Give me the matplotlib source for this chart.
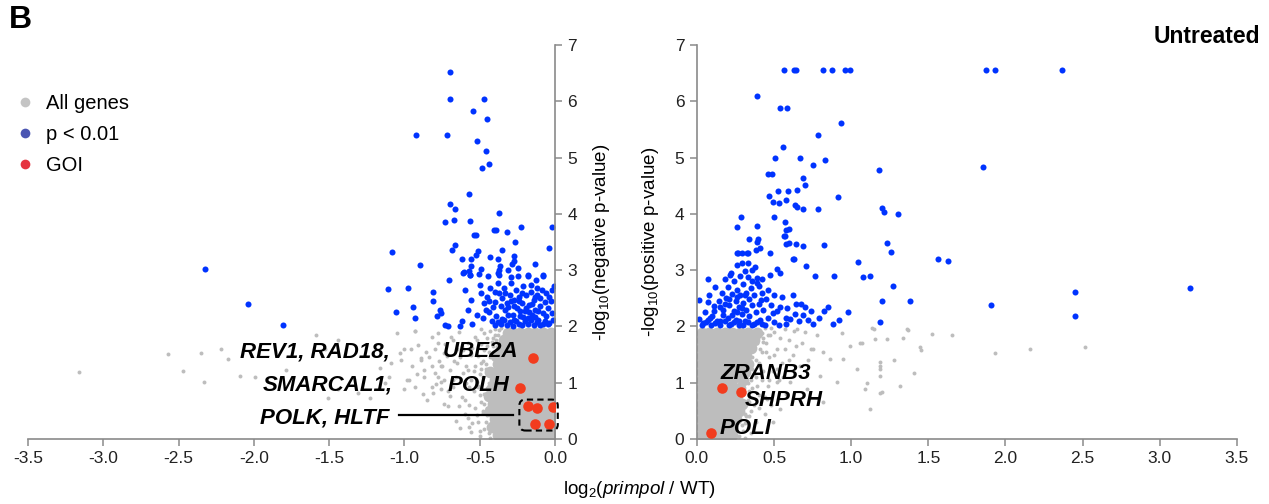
import matplotlib
matplotlib.use("Agg")
import matplotlib.pyplot as plt
from matplotlib.lines import Line2D
from matplotlib.patches import FancyBboxPatch

plt.rcParams['font.family'] = ['Liberation Sans', 'DejaVu Sans']
plt.rcParams['mathtext.fontset'] = 'custom'
plt.rcParams['mathtext.rm'] = 'Liberation Sans'
plt.rcParams['mathtext.it'] = 'Liberation Sans:italic'

GRAY = '#bdbdbd'
BLUE = '#0033ff'
RED = '#f23c1e'
SPINE = '#8a8a8a'

# ---------------- left panel (negative) ----------------
# dense part of the gene cloud
core_left_x = [
    -0.03, -0.08, -0.13, -0.18, -0.23, -0.28, -0.33, -0.38,
    -0.03, -0.08, -0.13, -0.18, -0.23, -0.28, -0.33, -0.38, -0.42,
    -0.03, -0.08, -0.13, -0.18, -0.23, -0.28, -0.33, -0.38, -0.40,
    -0.03, -0.08, -0.13, -0.18, -0.23, -0.28, -0.33, -0.38, -0.43,
    -0.03, -0.08, -0.13, -0.18, -0.23, -0.28, -0.33, -0.38, -0.41,
    -0.03, -0.08, -0.13, -0.18, -0.23, -0.28, -0.33, -0.38, -0.44,
    -0.03, -0.08, -0.13, -0.18, -0.23, -0.28, -0.33, -0.38, -0.42,
    -0.03, -0.08, -0.13, -0.18, -0.23, -0.28, -0.33, -0.38, -0.40,
    -0.03, -0.08, -0.13, -0.18, -0.23, -0.28, -0.33, -0.38, -0.43,
    -0.03, -0.08, -0.13, -0.18, -0.23, -0.28, -0.33, -0.38,
    -0.03, -0.08, -0.13, -0.18, -0.23, -0.28, -0.33, -0.39,
    -0.03, -0.08, -0.13, -0.18, -0.23, -0.28, -0.33, -0.36,
    -0.03, -0.08, -0.13, -0.18, -0.23, -0.28, -0.34,
    -0.03, -0.08, -0.13, -0.18, -0.23, -0.28, -0.31,
]
core_left_y = (
    [0.07] * 8 + [0.21] * 9 + [0.35] * 9 + [0.49] * 9 + [0.63] * 9 + [0.77] * 9
    + [0.91] * 9 + [1.05] * 9 + [1.19] * 9 + [1.33] * 8 + [1.47] * 8 + [1.61] * 8
    + [1.75] * 7 + [1.89] * 7
)

# scattered genes around the cloud
gray_left_x = [
    -0.44, -0.46, -0.45, -0.47, -0.44, -0.46, -0.43, -0.41, -0.38, -0.40, -0.36,
    -0.50, -0.52, -0.49, -0.51, -0.50, -0.48, -0.47, -0.45, -0.43, -0.55, -0.57,
    -0.54, -0.56, -0.53, -0.55, -0.52, -0.49, -0.60, -0.62, -0.59, -0.61, -0.63,
    -0.58, -0.66, -0.68, -0.65, -0.70, -0.72, -0.74, -0.64, -0.68, -0.76, -0.78,
    -0.82, -0.86, -0.88, -0.92, -0.96, -1.02, -0.41, -0.42, -0.40, -0.41, -0.39,
    -0.89, -0.87, -0.93, -0.98, -0.82, -0.80, -0.78, -0.81, -0.76, -0.74, -0.69,
    -0.68, -0.65, -0.62, -0.60, -0.58, -0.57, -0.56, -0.53, -0.51, -0.49, -0.48, -0.47,
    -1.16, -1.13, -1.10, -1.09, -1.05, -1.03, -1.00, -0.97, -0.95, -0.93, -0.91,
    -0.89, -0.87, -0.85, -0.82, -0.80, -0.78, -0.77, -0.76, -0.74, -0.71, -0.70,
    -1.51, -1.44, -1.31, -1.23, -1.59, -1.53, -1.44, -1.79, -1.99, -2.09, -2.17,
    -2.22, -2.33, -2.35, -2.47, -2.57, -3.16, -1.00, -0.93,
    -0.44, -0.45, -0.47, -0.45, -0.48, -0.46, -0.44, -0.42, -0.40, -0.37,
    -0.50, -0.51, -0.53, -0.50, -0.52, -0.54, -0.51, -0.49, -0.47, -0.56,
    -0.58, -0.57, -0.59, -0.56, -0.61, -0.63, -0.64, -0.66, -0.67, -0.71,
    -0.73, -0.75, -0.79, -0.84, -0.48, -0.46, -0.49, -0.45, -0.43, -0.41,
]
gray_left_y = [
    0.10, 0.30, 0.55, 0.80, 1.00, 1.25, 1.45, 1.65, 1.85, 1.95, 1.98,
    0.15, 0.42, 0.66, 0.95, 1.15, 1.38, 1.58, 1.80, 1.92, 0.28, 0.60,
    0.85, 1.05, 1.30, 1.62, 1.75, 1.95, 0.45, 0.75, 1.00, 1.18, 1.45,
    1.70, 0.32, 0.92, 1.60, 1.22, 1.48, 0.62, 1.90, 1.75, 1.02, 1.70,
    1.30, 1.55, 0.80, 1.15, 1.60, 1.40, 0.70, 1.15, 0.40, 1.55, 1.75,
    1.44, 1.23, 0.93, 1.05, 1.82, 1.59, 1.11, 0.82, 1.29, 1.53, 1.82,
    1.05, 1.35, 1.64, 0.70, 1.23, 0.22, 1.53, 1.82, 0.93, 1.35, 0.46, 0.17,
    1.26, 0.99, 1.11, 1.35, 1.88, 1.53, 0.88, 1.05, 1.29, 1.91, 1.67,
    1.41, 1.11, 0.70, 0.93, 1.17, 1.88, 1.38, 0.88, 1.05, 0.58, 0.76,
    0.73, 0.88, 0.82, 0.73, 1.85, 1.59, 1.76, 1.22, 1.10, 1.12, 1.42,
    1.59, 1.02, 1.53, 1.20, 1.51, 1.19, 1.59, 1.91,
    0.20, 0.42, 0.62, 0.90, 1.10, 1.33, 1.55, 1.72, 1.85, 1.93,
    0.05, 0.30, 0.55, 0.78, 1.02, 1.20, 1.48, 1.68, 1.88, 0.12,
    0.38, 0.92, 1.30, 1.50, 1.58, 0.20, 0.58, 1.10, 1.38, 0.85,
    1.68, 1.30, 0.98, 1.45, 0.50, 0.72, 1.25, 1.65, 0.02, 1.80,
]

blue_left_x = [
    -0.697, -0.697, -0.474, -0.547, -0.450, -0.925, -0.720, -0.516, -0.458, -0.483,
    -0.440, -0.573, -0.697, -0.662, -0.374, -0.728, -0.670, -0.564, -0.536, -0.523,
    -0.403, -0.392, -0.317, -0.226, -0.020, -0.268, -0.662, -0.038,
    -2.324, -2.040, -1.804, -1.080, -0.900, -1.107, -0.974, -1.056, -0.941, -0.928,
    -0.812, -0.786, -0.766, -0.757, -0.730, -0.712,
    -0.682, -0.616, -0.560, -0.513, -0.525, -0.606, -0.569, -0.558, -0.567, -0.490,
    -0.430, -0.380, -0.367, -0.370, -0.370, -0.352, -0.270, -0.274, -0.286, -0.314,
    -0.248, -0.180, -0.135, -0.128, -0.080, -0.005, -0.020, -0.015, -0.048, -0.040,
    -0.810, -0.706, -0.613, -0.562, -0.503, -0.447, -0.376, -0.292, -0.244, -0.181,
    -0.082, -0.629,
    -0.60, -0.56, -0.50, -0.49, -0.47, -0.45, -0.43, -0.40, -0.38, -0.37, -0.36,
    -0.35, -0.34, -0.33, -0.32, -0.30, -0.29, -0.28, -0.27, -0.26, -0.25, -0.24,
    -0.23, -0.22, -0.21, -0.20, -0.19, -0.18, -0.17, -0.16, -0.15, -0.14, -0.13,
    -0.12, -0.11, -0.10, -0.09, -0.08, -0.07, -0.06, -0.05, -0.04,
    -0.40, -0.38, -0.36, -0.34, -0.32, -0.30, -0.28, -0.26, -0.24, -0.22, -0.20,
    -0.18, -0.16, -0.14, -0.12, -0.10, -0.08,
    -0.52, -0.58, -0.62, -0.55, -0.48, -0.44, -0.42, -0.39, -0.35, -0.31, -0.27,
    -0.23, -0.21, -0.17, -0.13, -0.11, -0.07, -0.33, -0.31, -0.27, -0.24, -0.19,
    -0.15, -0.13, -0.10, -0.40, -0.44, -0.46, -0.41, -0.29, -0.22, -0.16, -0.12,
    -0.06, -0.03, -0.02,
]
blue_left_y = [
    6.52, 6.04, 6.04, 5.82, 5.68, 5.40, 5.40, 5.30, 5.12, 4.81,
    4.88, 4.35, 4.18, 4.09, 4.02, 3.85, 3.89, 3.87, 3.63, 3.63,
    3.72, 3.72, 3.67, 3.76, 3.76, 3.50, 3.44, 3.39,
    3.02, 2.40, 2.03, 3.32, 3.09, 2.66, 2.69, 2.26, 2.34, 2.15,
    2.46, 2.19, 2.30, 2.24, 2.03, 2.01,
    3.36, 3.20, 3.20, 3.34, 3.27, 2.96, 2.99, 3.07, 2.92, 3.02,
    3.24, 3.20, 3.07, 3.01, 2.92, 3.35, 3.26, 3.17, 3.11, 3.01,
    3.04, 2.89, 3.11, 2.83, 2.91, 2.72, 2.24, 2.12, 2.04, 2.06,
    2.61, 2.82, 2.95, 2.92, 2.94, 2.89, 2.95, 2.88, 2.89, 2.92,
    2.90, 2.01,
    2.65, 2.47, 2.74, 2.59, 2.41, 2.53, 2.68, 2.44, 2.77, 2.59, 2.36,
    2.50, 2.68, 2.30, 2.41, 2.56, 2.77, 2.21, 2.47, 2.65, 2.33, 2.53,
    2.18, 2.41, 2.71, 2.27, 2.56, 2.15, 2.38, 2.62, 2.21, 2.47, 2.30,
    2.56, 2.12, 2.36, 2.65, 2.24, 2.44, 2.18, 2.33, 2.53,
    2.02, 2.08, 2.04, 2.11, 2.03, 2.07, 2.01, 2.10, 2.05, 2.02, 2.09,
    2.04, 2.12, 2.03, 2.07, 2.02, 2.05,
    2.20, 2.30, 2.10, 2.05, 2.15, 2.25, 2.10, 2.18, 2.14, 2.20, 2.12,
    2.28, 2.16, 2.25, 2.17, 2.27, 2.10, 2.60, 2.35, 2.37, 2.45, 2.32,
    2.40, 2.52, 2.50, 2.62, 2.46, 2.30, 2.34, 2.46, 2.60, 2.73, 2.68,
    2.60, 2.45, 2.65,
]

goi_left_x = [-0.148, -0.234, -0.177, -0.120, -0.015, -0.133, -0.042]
goi_left_y = [1.44, 0.91, 0.58, 0.55, 0.57, 0.27, 0.27]

# ---------------- right panel (positive) ----------------
core_right_x = [
    0.03, 0.08, 0.13, 0.18, 0.23,
    0.03, 0.08, 0.13, 0.18, 0.23,
    0.03, 0.08, 0.13, 0.18, 0.23, 0.25,
    0.03, 0.08, 0.13, 0.18, 0.23, 0.27,
    0.03, 0.08, 0.13, 0.18, 0.23, 0.29,
    0.03, 0.08, 0.13, 0.18, 0.23, 0.26,
    0.03, 0.08, 0.13, 0.18, 0.23, 0.28,
    0.03, 0.08, 0.13, 0.18, 0.23, 0.30,
    0.03, 0.08, 0.13, 0.18, 0.23, 0.28, 0.31,
    0.03, 0.08, 0.13, 0.18, 0.23, 0.28, 0.33,
    0.03, 0.08, 0.13, 0.18, 0.23, 0.28, 0.32,
    0.03, 0.08, 0.13, 0.18, 0.23, 0.28, 0.33, 0.35,
    0.03, 0.08, 0.13, 0.18, 0.23, 0.28, 0.33, 0.37,
    0.03, 0.08, 0.13, 0.18, 0.23, 0.28, 0.33, 0.39,
]
core_right_y = (
    [0.07] * 5 + [0.21] * 5 + [0.35] * 6 + [0.49] * 6 + [0.63] * 6 + [0.77] * 6
    + [0.91] * 6 + [1.05] * 6 + [1.19] * 7 + [1.33] * 7 + [1.47] * 7
    + [1.61] * 8 + [1.75] * 8 + [1.89] * 8
)

gray_right_x = [
    0.30, 0.32, 0.34, 0.36, 0.38, 0.40, 0.42, 0.43, 0.44, 0.40, 0.45, 0.47,
    0.49, 0.46, 0.44, 0.40, 0.38, 0.35, 0.50, 0.52, 0.55, 0.53, 0.58, 0.60,
    0.62, 0.65, 0.68, 0.72, 0.78, 0.82, 0.30, 0.33, 0.36, 0.31, 0.27, 0.42, 0.48,
    0.474, 0.571, 0.626, 0.669, 0.604, 0.712, 0.755, 0.799, 0.820, 0.864, 0.907,
    0.940, 0.950, 0.993, 1.037, 1.058, 1.090, 1.134, 1.156, 1.188, 1.188, 1.188,
    1.200, 1.123, 0.496, 0.540, 0.452, 0.517,
    1.069, 1.102, 1.145, 1.188, 1.188, 1.232, 1.275, 1.318, 1.361, 1.405, 1.448,
    1.370, 1.526, 1.656, 1.336, 1.454, 1.935, 2.156, 2.513,
    0.31, 0.29, 0.31, 0.33, 0.34, 0.35, 0.36, 0.38, 0.41, 0.43, 0.42, 0.46,
    0.48, 0.45, 0.39, 0.37, 0.34, 0.33, 0.40, 0.43, 0.50, 0.54, 0.57, 0.52,
    0.47, 0.44, 0.56, 0.60, 0.64, 0.70, 0.74, 0.39, 0.41, 0.37, 0.35,
]
gray_right_y = [
    0.15, 0.40, 0.65, 0.90, 1.10, 1.35, 1.55, 1.80, 1.97, 1.90, 1.70, 1.45,
    1.20, 0.95, 0.75, 0.55, 0.30, 0.10, 1.90, 1.60, 1.35, 1.05, 0.80, 1.75,
    1.50, 1.95, 1.70, 1.40, 1.85, 1.55, 0.55, 1.00, 1.45, 0.28, 0.05, 1.05, 0.60,
    1.84, 1.60, 1.92, 1.30, 1.01, 0.89, 1.60, 1.12, 0.65, 1.42, 1.01,
    1.89, 1.42, 1.66, 1.24, 1.71, 0.89, 1.98, 1.77, 1.36, 1.24, 1.12,
    0.83, 0.53, 0.30, 0.53, 0.71, 1.01,
    1.71, 0.99, 1.95, 1.29, 0.82, 1.77, 1.41, 0.94, 1.95, 1.17, 1.64,
    1.93, 1.86, 1.84, 1.80, 1.58, 1.53, 1.60, 1.64,
    0.02, 0.25, 0.45, 0.70, 0.85, 1.05, 1.25, 1.40, 1.60, 1.72, 1.88, 1.85,
    1.98, 1.55, 0.95, 0.60, 0.40, 0.20, 0.78, 1.20, 1.50, 1.80, 1.95, 1.25,
    1.05, 0.45, 1.10, 1.40, 1.65, 1.90, 1.60, 1.70, 1.32, 1.15, 0.50,
]

blue_right_x = [
    0.567, 0.632, 0.643, 0.816, 0.875, 0.961, 0.989, 1.873, 1.930, 2.364,
    0.390, 0.541, 0.582, 0.931, 0.786, 0.558, 0.504, 0.665, 0.833, 0.753,
    1.180, 1.856, 0.459, 0.487, 0.688, 0.703, 0.470, 0.526, 0.591, 0.647,
    0.916, 0.495, 0.534, 0.576, 0.638, 0.649, 0.688, 0.786, 1.197, 1.214,
    1.303, 0.284, 0.502, 0.388, 0.573, 0.600, 0.258,
    0.336, 0.398, 0.392, 0.569, 0.600, 0.576, 0.643, 0.688, 0.825, 0.626,
    0.704, 0.767, 0.890, 1.041, 1.076, 1.123, 1.229, 1.260, 1.271, 1.197,
    1.383, 1.188, 0.979, 0.922, 0.825, 0.794, 1.563, 1.628, 1.904, 2.450,
    2.450, 3.194,
    0.407, 0.383, 0.258, 0.294, 0.333, 0.476, 0.567, 0.576, 0.623,
    0.723, 0.740, 0.690, 0.643, 0.673, 0.637, 0.582, 0.606, 0.539, 0.530,
    0.576, 0.496, 0.463, 0.500, 0.517, 0.539, 0.474, 0.420, 0.400, 0.413,
    0.013, 0.013, 0.074, 0.074, 0.113, 0.149, 0.041, 0.085, 0.128, 0.214,
    0.258, 0.290, 0.334, 0.268, 0.323, 0.312, 0.355, 0.377, 0.388, 0.355,
    0.05, 0.08, 0.10, 0.12, 0.14, 0.15, 0.16, 0.17, 0.18, 0.19, 0.20, 0.20,
    0.21, 0.22, 0.22, 0.23, 0.24, 0.24, 0.25, 0.25, 0.26, 0.27, 0.27, 0.28,
    0.28, 0.29, 0.30, 0.30, 0.31, 0.32, 0.32, 0.33, 0.34, 0.34, 0.35, 0.36,
    0.37, 0.37, 0.38, 0.39, 0.40, 0.41, 0.42, 0.43, 0.44, 0.45, 0.46, 0.48,
    0.50, 0.52, 0.55, 0.58, 0.62, 0.66, 0.70, 0.75, 0.85, 0.88,
    0.03, 0.06, 0.09, 0.12, 0.15, 0.18, 0.21, 0.24, 0.27, 0.30, 0.33, 0.36,
    0.39, 0.42, 0.17, 0.23, 0.26, 0.29, 0.21, 0.26, 0.31, 0.18, 0.11, 0.07,
]
blue_right_y = [
    6.56, 6.56, 6.56, 6.56, 6.56, 6.56, 6.56, 6.56, 6.56, 6.56,
    6.10, 5.88, 5.88, 5.62, 5.40, 5.18, 5.00, 5.00, 4.96, 4.87,
    4.78, 4.83, 4.70, 4.70, 4.63, 4.52, 4.32, 4.41, 4.41, 4.43,
    4.30, 4.21, 4.19, 4.25, 4.15, 4.13, 4.08, 4.08, 4.11, 4.04,
    3.99, 3.95, 3.95, 3.79, 3.85, 3.73, 3.76,
    3.55, 3.55, 3.50, 3.60, 3.48, 3.71, 3.46, 3.42, 3.44, 3.19,
    3.07, 2.89, 2.89, 3.14, 2.87, 2.89, 3.48, 3.33, 2.71, 2.45,
    2.45, 2.08, 2.26, 2.11, 2.27, 2.15, 3.19, 3.17, 2.38, 2.61,
    2.19, 2.69,
    3.39, 3.35, 3.31, 3.31, 3.31, 3.31, 3.60, 3.46, 3.20,
    2.12, 2.28, 2.20, 2.40, 2.40, 2.22, 2.33, 2.14, 2.35, 2.02,
    2.15, 2.24, 2.64, 2.55, 3.02, 2.95, 2.92, 2.85, 2.71, 2.47,
    2.47, 2.13, 2.84, 2.43, 2.37, 2.35, 2.06, 2.15, 2.09, 2.92,
    3.09, 3.12, 3.12, 3.30, 3.30, 2.99, 3.00, 3.06, 2.86, 2.80,
    2.25, 2.55, 2.18, 2.70, 2.45, 2.10, 2.60, 2.30, 2.85, 2.50, 2.15, 2.70,
    2.38, 2.05, 2.95, 2.58, 2.28, 2.80, 2.12, 2.45, 2.65, 2.35, 2.02, 2.55,
    2.90, 2.22, 2.75, 2.42, 2.10, 2.60, 2.30, 2.88, 2.48, 2.18, 2.68, 2.38,
    2.05, 2.55, 2.25, 2.78, 2.40, 2.12, 2.60, 2.30, 2.02, 2.48, 2.15, 2.38,
    2.08, 2.28, 2.52, 2.05, 2.55, 2.10, 2.35, 2.05, 2.35, 2.05,
    2.02, 2.08, 2.03, 2.06, 2.02, 2.09, 2.03, 2.07, 2.10, 2.03, 2.07, 2.02,
    2.08, 2.04, 2.20, 2.20, 2.25, 2.32, 2.48, 2.52, 2.55, 2.40, 2.28, 2.12,
]

goi_right_x = [0.160, 0.286, 0.089]
goi_right_y = [0.90, 0.83, 0.11]

left_xticks = [-3.5, -3.0, -2.5, -2.0, -1.5, -1.0, -0.5, 0.0]
right_xticks = [0.0, 0.5, 1.0, 1.5, 2.0, 2.5, 3.0, 3.5]
yticks = [0, 1, 2, 3, 4, 5, 6, 7]

fig = plt.figure(figsize=(12.69, 5.04), dpi=100)
axl = fig.add_axes([0.0221, 0.129, 0.4153, 0.7817])
axr = fig.add_axes([0.5492, 0.129, 0.4255, 0.7817])

CORE_S = 72
for ax, cx, cy, gx, gy, bx, by, rx, ry in [
    (axl, core_left_x, core_left_y, gray_left_x, gray_left_y,
     blue_left_x, blue_left_y, goi_left_x, goi_left_y),
    (axr, core_right_x, core_right_y, gray_right_x, gray_right_y,
     blue_right_x, blue_right_y, goi_right_x, goi_right_y),
]:
    ax.scatter(cx, cy, s=CORE_S, color=GRAY, linewidths=0, zorder=1)
    ax.scatter(gx, gy, s=8, color=GRAY, linewidths=0, zorder=1)
    ax.scatter(bx, by, s=19, color=BLUE, linewidths=0, zorder=2)
    ax.scatter(rx, ry, s=58, color=RED, linewidths=0, zorder=4)
    ax.set_ylim(0, 7)
    ax.set_yticks(yticks)
    ax.spines['top'].set_visible(False)
    for sp in ax.spines.values():
        sp.set_color(SPINE)
        sp.set_linewidth(1.2)
    ax.tick_params(direction='out', length=5, width=1.1, color=SPINE,
                   labelsize=12.5, labelcolor='#222222', pad=4)

axl.set_xlim(-3.5, 0)
axl.set_xticks(left_xticks)
axl.set_xticklabels([f'{v:.1f}' for v in left_xticks])
axl.spines['left'].set_visible(False)
axl.yaxis.tick_right()
axl.yaxis.set_label_position('right')
axl.set_ylabel('-log$_{10}$(negative p-value)', fontsize=13.5, labelpad=10)

axr.set_xlim(0, 3.5)
axr.set_xticks(right_xticks)
axr.set_xticklabels([f'{v:.1f}' for v in right_xticks])
axr.spines['right'].set_visible(False)
axr.set_ylabel('-log$_{10}$(positive p-value)', fontsize=13.5, labelpad=10)

# gene labels
lab = dict(fontsize=16, fontweight='bold', fontstyle='italic', va='center', zorder=5)
axl.text(-1.10, 1.55, 'REV1, RAD18,', ha='right', **lab)
axl.text(-1.076, 0.965, 'SMARCAL1,', ha='right', **lab)
axl.text(-1.10, 0.38, 'POLK, HLTF', ha='right', **lab)
axl.text(-0.245, 1.55, 'UBE2A', ha='right', **lab)
axl.text(-0.30, 0.95, 'POLH', ha='right', **lab)
axl.plot([-1.036, -0.28], [0.43, 0.43], color='black', lw=1.6, zorder=5)
box = FancyBboxPatch((-0.237, 0.15), 0.255, 0.55,
                     boxstyle='round,pad=0,rounding_size=0.04',
                     mutation_aspect=2.67, fill=False, ec='black',
                     lw=1.5, ls=(0, (3, 2)), clip_on=False, zorder=5)
axl.add_patch(box)

axr.text(0.156, 1.17, 'ZRANB3', ha='left', **lab)
axr.text(0.31, 0.68, 'SHPRH', ha='left', **lab)
axr.text(0.15, 0.18, 'POLI', ha='left', **lab)

fig.text(0.504, 0.028, 'log$_2$($\\mathit{primpol}$ / WT)', ha='center', va='center',
         fontsize=13.5)
fig.text(0.007, 0.99, 'B', ha='left', va='top', fontsize=23, fontweight='bold')
fig.text(0.993, 0.927, 'Untreated', ha='right', va='center', fontsize=16.5,
         fontweight='bold')

handles = [
    Line2D([], [], ls='none', marker='o', ms=7, mec='none', mfc='#c4c4c4'),
    Line2D([], [], ls='none', marker='o', ms=7, mec='none', mfc='#4a55b2'),
    Line2D([], [], ls='none', marker='o', ms=7, mec='none', mfc='#e5333f'),
]
fig.legend(handles, ['All genes', 'p < 0.01', 'GOI'], loc='upper left',
           bbox_to_anchor=(0.012, 0.813), frameon=False, fontsize=14.5,
           handlelength=1.0, handletextpad=0.55, labelspacing=0.6,
           borderpad=0, borderaxespad=0)

fig.savefig('out.png', dpi=100)
